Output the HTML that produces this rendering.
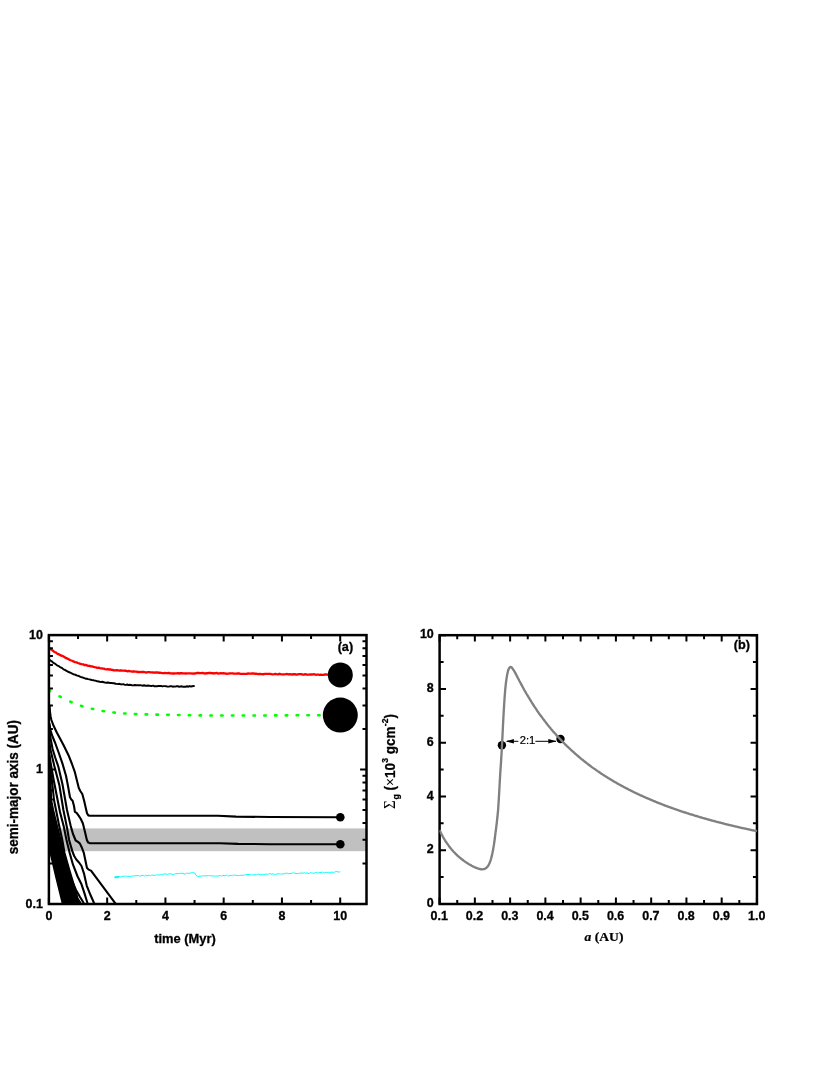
<!DOCTYPE html>
<html><head><meta charset="utf-8"><title>Figure</title>
<style>
html,body{margin:0;padding:0;background:#fff;}
body{width:830px;height:1075px;overflow:hidden;font-family:"Liberation Sans",sans-serif;}
svg{display:block;will-change:transform;font-family:"Liberation Sans",sans-serif;}
</style></head>
<body>
<svg width="830" height="1075" viewBox="0 0 830 1075">
<rect width="830" height="1075" fill="#fff"/>
<g id="panelA">
<rect x="48.9" y="828.4" width="317.6" height="22.8" fill="#c0c0c0"/>
<clipPath id="clipA"><rect x="48.9" y="635.1" width="317.6" height="268.9"/></clipPath>
<g clip-path="url(#clipA)" fill="none" stroke-linejoin="round" stroke-linecap="round">
<path d="M49.5 799.7 L50.2 804.7 L63.9 853.6 L79.2 907.0" stroke="#000" stroke-width="2.1"/>
<path d="M49.5 801.7 L50.2 806.7 L63.4 854.6 L78.5 907.0" stroke="#000" stroke-width="2.1"/>
<path d="M49.5 803.7 L50.2 808.7 L63.5 855.6 L77.8 907.0" stroke="#000" stroke-width="2.1"/>
<path d="M49.5 805.8 L50.2 810.8 L62.7 856.6 L77.2 907.0" stroke="#000" stroke-width="2.1"/>
<path d="M49.5 807.8 L50.2 812.8 L62.7 857.6 L76.5 907.0" stroke="#000" stroke-width="2.1"/>
<path d="M49.5 809.8 L50.2 814.8 L62.3 858.7 L75.8 907.0" stroke="#000" stroke-width="2.1"/>
<path d="M49.5 811.8 L50.2 816.8 L61.7 859.7 L75.1 907.0" stroke="#000" stroke-width="2.1"/>
<path d="M49.5 813.9 L50.2 818.9 L61.7 860.7 L74.5 907.0" stroke="#000" stroke-width="2.1"/>
<path d="M49.5 815.9 L50.2 820.9 L61.0 861.7 L73.8 907.0" stroke="#000" stroke-width="2.1"/>
<path d="M49.5 817.9 L50.2 822.9 L61.0 862.7 L73.1 907.0" stroke="#000" stroke-width="2.1"/>
<path d="M49.5 819.9 L50.2 824.9 L60.4 863.7 L72.4 907.0" stroke="#000" stroke-width="2.1"/>
<path d="M49.5 821.9 L50.2 826.9 L60.0 864.7 L71.7 907.0" stroke="#000" stroke-width="2.1"/>
<path d="M49.5 824.0 L50.2 829.0 L60.0 865.7 L71.1 907.0" stroke="#000" stroke-width="2.1"/>
<path d="M49.5 826.0 L50.2 831.0 L60.0 866.7 L70.4 907.0" stroke="#000" stroke-width="2.1"/>
<path d="M49.5 828.0 L50.2 833.0 L59.1 867.8 L69.7 907.0" stroke="#000" stroke-width="2.1"/>
<path d="M49.5 830.0 L50.2 835.0 L58.8 868.8 L69.0 907.0" stroke="#000" stroke-width="2.1"/>
<path d="M49.5 832.0 L50.2 837.0 L58.8 869.8 L68.4 907.0" stroke="#000" stroke-width="2.1"/>
<path d="M49.5 834.1 L50.2 839.1 L58.7 870.8 L67.7 907.0" stroke="#000" stroke-width="2.1"/>
<path d="M49.5 836.1 L50.2 841.1 L58.1 871.8 L67.0 907.0" stroke="#000" stroke-width="2.1"/>
<path d="M49.5 838.1 L50.2 843.1 L57.6 872.8 L66.3 907.0" stroke="#000" stroke-width="2.1"/>
<path d="M49.5 840.1 L50.2 845.1 L57.7 873.8 L65.6 907.0" stroke="#000" stroke-width="2.1"/>
<path d="M49.5 842.2 L50.2 847.2 L56.7 874.8 L64.9 907.0" stroke="#000" stroke-width="2.1"/>
<path d="M49.5 844.2 L50.2 849.2 L57.0 875.8 L64.3 907.0" stroke="#000" stroke-width="2.1"/>
<path d="M49.5 846.2 L50.2 851.2 L56.2 876.9 L63.6 907.0" stroke="#000" stroke-width="2.1"/>
<path d="M49.6 706.0 L50.0 712.0 L50.6 716.5 L51.4 720.0 L53.6 725.8 L56.8 732.5 L59.9 738.3 L63.6 745.3 L68.5 755.2 L71.8 763.5 L74.7 771.6 L76.8 780.0 L78.8 788.0 L80.3 791.0 L82.3 794.0 L84.2 801.0 L85.9 808.4 L87.0 813.3 L88.3 815.4 L90.0 815.7 L120.0 815.7 L218.0 815.7 L236.0 816.6 L270.0 817.0 L340.3 817.2" stroke="#000" stroke-width="2.1"/>
<path d="M49.6 724.0 L50.3 729.7 L52.5 736.5 L55.2 743.0 L58.8 753.0 L62.4 763.4 L66.0 775.7 L68.0 786.0 L70.0 797.2 L71.3 799.5 L72.6 800.8 L74.0 806.0 L74.9 811.8 L76.6 812.8 L78.8 815.9 L80.8 819.0 L82.9 823.5 L85.0 832.0 L87.0 840.4 L88.3 842.6 L90.0 843.2 L120.0 843.2 L220.0 843.2 L238.0 843.9 L270.0 844.2 L340.3 844.3" stroke="#000" stroke-width="2.1"/>
<path d="M49.6 731.0 L50.3 737.0 L52.6 749.0 L55.2 757.5 L58.3 766.5 L62.4 783.9 L67.0 810.0 L70.6 825.6 L73.0 834.0 L75.7 840.5 L77.6 841.6 L79.8 843.4 L81.8 847.5 L83.9 853.2 L85.5 861.0 L87.0 868.0 L88.6 869.6 L91.0 870.6 L114.6 902.3 L118.0 907.0" stroke="#000" stroke-width="2.1"/>
<path d="M49.6 743.0 L50.3 749.0 L54.2 765.5 L59.3 784.9 L63.4 810.0 L67.0 827.6 L69.1 840.0 L72.3 851.1 L74.2 856.0 L76.3 859.5 L79.0 862.5 L81.5 866.0 L84.1 873.9 L86.7 885.6 L90.6 895.3 L93.8 902.5 L96.0 907.0" stroke="#000" stroke-width="2.1"/>
<path d="M49.6 755.0 L50.3 761.0 L53.5 779.0 L57.6 800.0 L60.0 812.0 L64.0 827.6 L66.5 840.0 L69.7 853.0 L73.0 864.7 L77.6 876.5 L81.5 884.3 L84.1 892.1 L87.3 902.5 L89.0 907.0" stroke="#000" stroke-width="2.1"/>
<path d="M49.6 762.0 L50.3 768.0 L51.8 779.0 L54.0 800.0 L56.0 810.0 L59.0 825.0 L62.3 840.0 L64.5 853.0 L69.1 869.3 L73.6 884.3 L77.6 898.6 L80.2 902.5 L82.0 907.0" stroke="#000" stroke-width="2.1"/>
<path d="M49.6 770.0 L50.3 776.0 L51.1 800.0 L53.1 810.0 L57.0 826.0 L60.5 840.0 L63.5 853.0 L67.5 868.0 L72.0 881.0 L76.0 890.0 L80.0 897.0 L83.4 902.5 L85.0 907.0" stroke="#000" stroke-width="2.1"/>
<path d="M49.2 648.4 L50.5 649.1 L51.8 649.9 L53.1 650.8 L54.4 652.0 L55.7 652.4 L57.0 653.4 L58.3 654.2 L59.6 654.7 L60.9 655.5 L62.2 655.8 L63.5 656.5 L64.8 657.3 L66.1 658.2 L67.4 658.6 L68.7 659.2 L70.0 660.0 L71.3 660.5 L72.6 660.9 L73.9 661.7 L75.2 662.1 L76.5 662.3 L77.8 663.0 L79.1 663.4 L80.4 663.9 L81.7 664.2 L83.0 664.3 L84.3 665.1 L85.6 664.9 L86.9 665.4 L88.2 665.9 L89.5 665.8 L90.8 666.3 L92.1 666.3 L93.4 666.9 L94.7 667.2 L96.0 667.4 L97.3 667.8 L98.6 667.7 L99.9 668.2 L101.2 668.3 L102.5 668.5 L103.8 668.6 L105.1 669.1 L106.4 669.3 L107.7 669.2 L109.0 669.5 L110.3 669.3 L111.6 669.8 L112.9 670.0 L114.2 670.3 L115.5 670.3 L116.8 670.1 L118.1 670.3 L119.4 670.6 L120.7 670.3 L122.0 670.7 L123.3 670.6 L124.6 670.7 L125.9 670.7 L127.2 671.3 L128.5 671.0 L129.8 671.2 L131.1 671.3 L132.4 671.7 L133.7 671.3 L135.0 671.6 L136.3 671.7 L137.6 672.0 L138.9 672.0 L140.2 672.1 L141.5 671.9 L142.8 672.0 L144.1 672.0 L145.4 672.4 L146.7 672.5 L148.0 672.1 L149.3 672.2 L150.6 672.3 L151.9 672.3 L153.2 672.5 L154.5 672.7 L155.8 672.5 L157.1 672.4 L158.4 672.7 L159.7 672.7 L161.0 672.9 L162.3 673.2 L163.6 673.1 L164.9 673.0 L166.2 673.1 L167.5 673.2 L168.8 672.9 L170.1 673.4 L171.4 673.4 L172.7 673.5 L174.0 673.5 L175.3 673.3 L176.6 673.3 L177.9 673.2 L179.2 673.5 L180.5 673.2 L181.8 673.2 L183.1 673.3 L184.4 673.3 L185.7 673.5 L187.0 673.3 L188.3 673.3 L189.6 673.4 L190.9 673.4 L192.2 673.6 L193.5 673.4 L194.8 673.6 L196.1 673.2 L197.4 672.9 L198.7 673.0 L200.0 673.1 L201.3 673.1 L202.6 672.9 L203.9 673.4 L205.2 673.5 L206.5 673.2 L207.8 673.2 L209.1 673.0 L210.4 673.0 L211.7 673.2 L213.0 673.2 L214.3 673.5 L215.6 673.1 L216.9 673.0 L218.2 673.6 L219.5 673.4 L220.8 673.2 L222.1 673.4 L223.4 673.1 L224.7 673.4 L226.0 673.7 L227.3 673.7 L228.6 673.6 L229.9 673.3 L231.2 673.4 L232.5 673.3 L233.8 673.7 L235.1 673.6 L236.4 673.7 L237.7 673.5 L239.0 673.4 L240.3 673.8 L241.6 673.9 L242.9 673.8 L244.2 673.8 L245.5 673.9 L246.8 673.8 L248.1 673.5 L249.4 673.7 L250.7 673.6 L252.0 673.5 L253.3 673.5 L254.6 673.7 L255.9 673.7 L257.2 673.9 L258.5 674.1 L259.8 673.8 L261.1 674.1 L262.4 674.2 L263.7 674.2 L265.0 673.8 L266.3 673.8 L267.6 673.8 L268.9 673.8 L270.2 673.8 L271.5 674.1 L272.8 674.3 L274.1 674.2 L275.4 674.0 L276.7 674.2 L278.0 674.3 L279.3 673.8 L280.6 674.2 L281.9 674.4 L283.2 674.3 L284.5 674.3 L285.8 674.2 L287.1 674.0 L288.4 674.4 L289.7 674.1 L291.0 674.4 L292.3 674.5 L293.6 674.2 L294.9 674.2 L296.2 674.6 L297.5 674.5 L298.8 674.1 L300.1 674.1 L301.4 674.2 L302.7 674.6 L304.0 674.6 L305.3 674.2 L306.6 674.6 L307.9 674.7 L309.2 674.6 L310.5 674.4 L311.8 674.5 L313.1 674.3 L314.4 674.2 L315.7 674.8 L317.0 674.7 L318.3 674.6 L319.6 674.9 L320.9 674.6 L322.2 674.9 L323.5 674.8 L324.8 674.5 L326.1 674.5 L327.4 674.6 L328.7 674.6 L330.0 674.8 L331.3 674.6 L332.6 674.7 L333.9 674.5 L335.2 675.0 L336.5 674.7 L337.8 674.8 L339.1 674.8 L340.0 674.8" stroke="#ff0000" stroke-width="2.35"/>
<path d="M49.2 659.4 L50.5 660.6 L51.8 661.3 L53.1 662.6 L54.4 663.3 L55.7 664.3 L57.0 665.3 L58.3 665.8 L59.6 666.8 L60.9 667.5 L62.2 668.1 L63.5 669.4 L64.8 669.8 L66.1 670.6 L67.4 671.4 L68.7 672.0 L70.0 672.5 L71.3 673.2 L72.6 673.8 L73.9 674.5 L75.2 674.6 L76.5 675.4 L77.8 675.7 L79.1 676.2 L80.4 676.9 L81.7 677.2 L83.0 677.7 L84.3 678.2 L85.6 678.7 L86.9 678.7 L88.2 679.1 L89.5 679.4 L90.8 679.7 L92.1 680.1 L93.4 680.3 L94.7 680.6 L96.0 680.8 L97.3 681.3 L98.6 681.5 L99.9 681.8 L101.2 682.0 L102.5 681.8 L103.8 682.2 L105.1 682.6 L106.4 682.8 L107.7 682.5 L109.0 682.7 L110.3 683.0 L111.6 682.9 L112.9 683.2 L114.2 683.3 L115.5 683.7 L116.8 683.9 L118.1 684.1 L119.4 683.8 L120.7 684.3 L122.0 684.4 L123.3 684.2 L124.6 684.7 L125.9 684.9 L127.2 684.5 L128.5 685.1 L129.8 684.8 L131.1 685.0 L132.4 685.4 L133.7 685.3 L135.0 685.0 L136.3 685.2 L137.6 685.3 L138.9 685.3 L140.2 685.3 L141.5 685.4 L142.8 685.7 L144.1 685.3 L145.4 685.7 L146.7 685.7 L148.0 685.5 L149.3 685.7 L150.6 685.9 L151.9 685.9 L153.2 685.7 L154.5 686.3 L155.8 686.2 L157.1 686.3 L158.4 685.9 L159.7 686.0 L161.0 685.9 L162.3 686.4 L163.6 686.1 L164.9 686.1 L166.2 686.3 L167.5 686.6 L168.8 686.6 L170.1 686.3 L171.4 686.2 L172.7 686.7 L174.0 686.5 L175.3 686.6 L176.6 686.3 L177.9 686.3 L179.2 686.7 L180.5 686.5 L181.8 686.3 L183.1 686.8 L184.4 686.6 L185.7 686.7 L187.0 686.3 L188.3 686.7 L189.6 686.1 L190.9 686.5 L192.2 686.2 L193.5 686.0 L194.0 686.1" stroke="#000" stroke-width="1.95"/>
<path d="M48.75 690.06 L50.05 690.81 M59.51 696.30 L60.85 696.96 M70.29 701.55 L71.63 702.21 M81.02 705.74 L82.46 706.14 M91.79 708.71 L93.25 709.03 M102.56 711.07 L104.04 711.26 M113.33 712.49 L114.83 712.63 M124.11 713.49 L125.61 713.56 M134.89 713.99 L136.39 714.04 M145.67 714.39 L147.17 714.42 M156.45 714.59 L157.95 714.62 M167.23 714.80 L168.73 714.83 M178.01 715.00 L179.51 715.03 M188.79 715.20 L190.29 715.23 M199.57 715.40 L201.07 715.40 M210.35 715.43 L211.85 715.43 M221.13 715.45 L222.63 715.46 M231.91 715.48 L233.41 715.48 M242.69 715.49 L244.19 715.49 M253.47 715.47 L254.97 715.46 M264.25 715.44 L265.75 715.44 M275.03 715.41 L276.53 715.41 M285.81 715.37 L287.31 715.36 M296.59 715.32 L298.09 715.31 M307.37 715.26 L308.87 715.26 M318.15 715.21 L319.65 715.20" stroke="#00ff00" stroke-width="2.6" stroke-linecap="round"/>
<path d="M115.7 877.2 L116.9 877.5 L118.1 876.7 L119.3 876.5 L120.5 876.9 L121.7 876.5 L122.9 876.3 L124.1 876.3 L125.3 876.1 L126.5 876.2 L127.7 876.3 L128.9 876.2 L130.1 876.6 L131.3 876.0 L132.5 876.2 L133.7 875.8 L134.9 875.9 L136.1 875.5 L137.3 875.7 L138.5 875.4 L139.7 876.1 L140.9 875.8 L142.1 875.3 L143.3 875.6 L144.5 876.0 L145.7 875.1 L146.9 875.8 L148.1 875.3 L149.3 875.3 L150.5 875.6 L151.7 875.1 L152.9 875.1 L154.1 875.3 L155.3 875.5 L156.5 874.7 L157.7 875.2 L158.9 875.0 L160.1 874.9 L161.3 874.6 L162.5 874.4 L163.7 874.0 L164.9 874.1 L166.1 873.9 L167.3 874.6 L168.5 874.0 L169.7 873.8 L170.9 873.7 L172.1 874.5 L173.3 874.4 L174.5 874.1 L175.7 873.7 L176.9 873.6 L178.1 873.5 L179.3 873.7 L180.5 873.3 L181.7 873.5 L182.9 873.3 L184.1 874.0 L185.3 873.9 L186.5 873.4 L187.7 873.0 L188.9 873.7 L190.1 872.9 L191.3 872.9 L192.5 872.5 L193.7 872.8 L194.6 872.9 L196.6 876.0 L197.6 876.4 L198.8 876.4 L200.0 876.0 L201.2 876.3 L202.4 875.7 L203.6 876.0 L204.8 875.7 L206.0 876.0 L207.2 875.6 L208.4 875.5 L209.6 875.8 L210.8 875.7 L212.0 876.0 L213.2 875.9 L214.4 876.2 L215.6 876.0 L216.8 876.0 L218.0 876.2 L219.2 875.6 L220.4 875.5 L221.6 876.2 L222.8 875.2 L224.0 875.8 L225.2 875.7 L226.4 875.0 L227.6 875.8 L228.8 875.9 L230.0 875.5 L231.2 875.6 L232.4 875.7 L233.6 874.9 L234.8 875.3 L236.0 875.2 L237.2 875.5 L238.4 875.5 L239.6 875.5 L240.8 875.2 L242.0 875.5 L243.2 875.2 L244.4 875.2 L245.6 874.6 L246.8 874.4 L248.0 874.4 L249.2 874.6 L250.4 874.3 L251.6 875.1 L252.8 874.8 L254.0 874.8 L255.2 874.8 L256.4 874.8 L257.6 874.5 L258.8 874.0 L260.0 874.8 L261.2 874.7 L262.4 874.4 L263.6 874.4 L264.8 874.5 L266.0 873.8 L267.2 874.5 L268.4 873.9 L269.6 873.7 L270.8 873.9 L272.0 874.3 L273.2 873.7 L274.4 874.3 L275.6 874.5 L276.8 873.9 L278.0 873.8 L279.2 873.8 L280.4 874.0 L281.6 874.1 L282.8 873.9 L284.0 873.9 L285.2 873.2 L286.4 873.3 L287.6 873.3 L288.8 873.8 L290.0 873.3 L291.2 873.6 L292.4 872.9 L293.6 872.9 L294.8 873.1 L296.0 873.5 L297.2 873.5 L298.4 873.5 L299.6 873.0 L300.8 873.2 L302.0 873.1 L303.2 873.1 L304.4 872.7 L305.6 873.5 L306.8 872.7 L308.0 873.5 L309.2 873.4 L310.4 872.4 L311.6 872.8 L312.8 873.2 L314.0 873.3 L315.2 872.7 L316.4 872.5 L317.6 872.4 L318.8 873.1 L320.0 872.3 L321.2 872.7 L322.4 872.1 L323.6 872.5 L324.8 873.0 L326.0 872.0 L327.2 872.7 L328.4 872.4 L329.6 872.7 L330.8 872.5 L332.0 871.9 L333.2 872.6 L334.4 872.1 L335.6 871.6 L336.8 871.5 L338.0 872.0 L339.2 872.0 L339.8 871.8" stroke="#00ffff" stroke-width="1.0"/>
<path d="M115.2 877.2 L118.5 876.9" stroke="#00ffff" stroke-width="2"/>
</g>
<circle cx="340.3" cy="674.9" r="12.5" fill="#000"/>
<circle cx="340.3" cy="715.1" r="17.5" fill="#000"/>
<circle cx="340.3" cy="817.2" r="4.3" fill="#000"/>
<circle cx="340.3" cy="844.3" r="4.3" fill="#000"/>
<g stroke="#000" stroke-width="2.0" fill="none">
<path d="M48.90 904.0 V897.60 M48.90 635.1 V641.50"/>
<path d="M78.03 904.0 V900.00 M78.03 635.1 V639.10"/>
<path d="M107.16 904.0 V897.60 M107.16 635.1 V641.50"/>
<path d="M136.29 904.0 V900.00 M136.29 635.1 V639.10"/>
<path d="M165.42 904.0 V897.60 M165.42 635.1 V641.50"/>
<path d="M194.55 904.0 V900.00 M194.55 635.1 V639.10"/>
<path d="M223.68 904.0 V897.60 M223.68 635.1 V641.50"/>
<path d="M252.81 904.0 V900.00 M252.81 635.1 V639.10"/>
<path d="M281.94 904.0 V897.60 M281.94 635.1 V641.50"/>
<path d="M311.07 904.0 V900.00 M311.07 635.1 V639.10"/>
<path d="M340.20 904.0 V897.60 M340.20 635.1 V641.50"/>
<path d="M48.9 904.00 H55.30 M366.5 904.00 H360.10"/>
<path d="M48.9 863.53 H52.90 M366.5 863.53 H362.50"/>
<path d="M48.9 839.85 H52.90 M366.5 839.85 H362.50"/>
<path d="M48.9 823.05 H52.90 M366.5 823.05 H362.50"/>
<path d="M48.9 810.02 H52.90 M366.5 810.02 H362.50"/>
<path d="M48.9 799.38 H52.90 M366.5 799.38 H362.50"/>
<path d="M48.9 790.38 H52.90 M366.5 790.38 H362.50"/>
<path d="M48.9 782.58 H52.90 M366.5 782.58 H362.50"/>
<path d="M48.9 775.70 H52.90 M366.5 775.70 H362.50"/>
<path d="M48.9 769.55 H55.30 M366.5 769.55 H360.10"/>
<path d="M48.9 729.08 H52.90 M366.5 729.08 H362.50"/>
<path d="M48.9 705.40 H52.90 M366.5 705.40 H362.50"/>
<path d="M48.9 688.60 H52.90 M366.5 688.60 H362.50"/>
<path d="M48.9 675.57 H52.90 M366.5 675.57 H362.50"/>
<path d="M48.9 664.93 H52.90 M366.5 664.93 H362.50"/>
<path d="M48.9 655.93 H52.90 M366.5 655.93 H362.50"/>
<path d="M48.9 648.13 H52.90 M366.5 648.13 H362.50"/>
<path d="M48.9 641.25 H52.90 M366.5 641.25 H362.50"/>
</g>
<rect x="48.9" y="635.1" width="317.6" height="268.9" fill="none" stroke="#000" stroke-width="2.5"/>
<g font-weight="bold" font-size="12" fill="#000">
<text transform="translate(48.90 920.00) scale(1.0 1.07)" text-anchor="middle" font-size="12.5" font-weight="bold" stroke="#000" stroke-width="0.3">0</text>
<text transform="translate(107.16 920.00) scale(1.0 1.07)" text-anchor="middle" font-size="12.5" font-weight="bold" stroke="#000" stroke-width="0.3">2</text>
<text transform="translate(165.42 920.00) scale(1.0 1.07)" text-anchor="middle" font-size="12.5" font-weight="bold" stroke="#000" stroke-width="0.3">4</text>
<text transform="translate(223.68 920.00) scale(1.0 1.07)" text-anchor="middle" font-size="12.5" font-weight="bold" stroke="#000" stroke-width="0.3">6</text>
<text transform="translate(281.94 920.00) scale(1.0 1.07)" text-anchor="middle" font-size="12.5" font-weight="bold" stroke="#000" stroke-width="0.3">8</text>
<text transform="translate(340.20 920.00) scale(1.0 1.07)" text-anchor="middle" font-size="12.5" font-weight="bold" stroke="#000" stroke-width="0.3">10</text>
<text transform="translate(43.00 639.00) scale(1.0 1.07)" text-anchor="end" font-size="12.5" font-weight="bold" stroke="#000" stroke-width="0.3">10</text>
<text transform="translate(43.00 772.75) scale(1.0 1.07)" text-anchor="end" font-size="12.5" font-weight="bold" stroke="#000" stroke-width="0.3">1</text>
<text transform="translate(43.00 907.90) scale(1.0 1.07)" text-anchor="end" font-size="12.5" font-weight="bold" stroke="#000" stroke-width="0.3">0.1</text>
</g>
<text transform="translate(185.00 942.70) scale(1.0 0.97)" text-anchor="middle" font-size="12.9" font-weight="bold" stroke="#000" stroke-width="0.3">time (Myr)</text>
<text transform="translate(18.20 787.10) rotate(-90) scale(1.0 1.07)" text-anchor="middle" font-size="13.5" font-weight="bold" stroke="#000" stroke-width="0.3">semi-major axis (AU)</text>
<text transform="translate(345.40 651.30) scale(1.0 1.05)" text-anchor="middle" font-size="12.7" font-weight="bold" stroke="#000" stroke-width="0.3">(a)</text>
</g>
<g id="panelB">
<clipPath id="clipB"><rect x="439.40000000000003" y="635.2" width="318.25" height="268.79999999999995"/></clipPath>
<g stroke="#000" fill="#000">
<path d="M507 741.3 H556" stroke-width="1" fill="none"/>
<path d="M505.6 741.3 L513.9 739.0 L513.9 743.6 Z" stroke="none"/>
<path d="M556.6 741.3 L548.3 739.0 L548.3 743.6 Z" stroke="none"/>
</g>
<rect x="518.3" y="735" width="17.1" height="12" fill="#fff"/>
<text x="527.5" y="744.2" text-anchor="middle" font-size="11.2" stroke="#000" stroke-width="0.2">2:1</text>
<circle cx="501.9" cy="745.3" r="4.2" fill="#000"/>
<circle cx="560.5" cy="739" r="4.2" fill="#000"/>
<g stroke="#000" stroke-width="2.0" fill="none">
<path d="M439.60 904.0 V897.60 M439.60 635.2 V641.60"/>
<path d="M457.23 904.0 V900.00 M457.23 635.2 V639.20"/>
<path d="M474.86 904.0 V897.60 M474.86 635.2 V641.60"/>
<path d="M492.49 904.0 V900.00 M492.49 635.2 V639.20"/>
<path d="M510.12 904.0 V897.60 M510.12 635.2 V641.60"/>
<path d="M527.75 904.0 V900.00 M527.75 635.2 V639.20"/>
<path d="M545.38 904.0 V897.60 M545.38 635.2 V641.60"/>
<path d="M563.01 904.0 V900.00 M563.01 635.2 V639.20"/>
<path d="M580.64 904.0 V897.60 M580.64 635.2 V641.60"/>
<path d="M598.28 904.0 V900.00 M598.28 635.2 V639.20"/>
<path d="M615.91 904.0 V897.60 M615.91 635.2 V641.60"/>
<path d="M633.54 904.0 V900.00 M633.54 635.2 V639.20"/>
<path d="M651.17 904.0 V897.60 M651.17 635.2 V641.60"/>
<path d="M668.80 904.0 V900.00 M668.80 635.2 V639.20"/>
<path d="M686.43 904.0 V897.60 M686.43 635.2 V641.60"/>
<path d="M704.06 904.0 V900.00 M704.06 635.2 V639.20"/>
<path d="M721.69 904.0 V897.60 M721.69 635.2 V641.60"/>
<path d="M739.32 904.0 V900.00 M739.32 635.2 V639.20"/>
<path d="M756.95 904.0 V897.60 M756.95 635.2 V641.60"/>
<path d="M439.6 904.00 H446.00 M756.95 904.00 H750.55"/>
<path d="M439.6 877.12 H443.60 M756.95 877.12 H752.95"/>
<path d="M439.6 850.24 H446.00 M756.95 850.24 H750.55"/>
<path d="M439.6 823.36 H443.60 M756.95 823.36 H752.95"/>
<path d="M439.6 796.48 H446.00 M756.95 796.48 H750.55"/>
<path d="M439.6 769.60 H443.60 M756.95 769.60 H752.95"/>
<path d="M439.6 742.72 H446.00 M756.95 742.72 H750.55"/>
<path d="M439.6 715.84 H443.60 M756.95 715.84 H752.95"/>
<path d="M439.6 688.96 H446.00 M756.95 688.96 H750.55"/>
<path d="M439.6 662.08 H443.60 M756.95 662.08 H752.95"/>
<path d="M439.6 635.20 H446.00 M756.95 635.20 H750.55"/>
</g>
<rect x="439.6" y="635.2" width="317.35" height="268.79999999999995" fill="none" stroke="#000" stroke-width="2.5"/>
<path clip-path="url(#clipB)" d="M439.6 830.1 L440.3 831.6 L441.0 833.1 L441.7 834.5 L442.4 835.8 L443.1 837.1 L443.8 838.3 L444.5 839.5 L445.2 840.7 L445.9 841.8 L446.7 842.9 L447.4 843.9 L448.1 844.9 L448.8 845.8 L449.5 846.8 L450.2 847.7 L450.9 848.5 L451.6 849.4 L452.3 850.2 L453.0 851.0 L453.7 851.8 L454.4 852.5 L455.1 853.2 L455.8 854.0 L456.5 854.6 L457.2 855.3 L457.9 856.0 L458.6 856.6 L459.3 857.2 L460.1 857.8 L460.8 858.4 L461.5 859.0 L462.2 859.5 L462.9 860.0 L463.6 860.6 L464.3 861.1 L465.0 861.6 L465.7 862.1 L466.4 862.6 L467.1 863.0 L467.8 863.4 L468.5 863.9 L469.2 864.3 L469.9 864.7 L470.6 865.1 L471.3 865.5 L472.0 865.9 L472.7 866.3 L473.5 866.6 L474.2 867.0 L474.9 867.3 L475.6 867.6 L476.3 867.9 L477.0 868.2 L477.7 868.4 L478.4 868.6 L479.1 868.8 L479.8 869.0 L480.5 869.2 L481.2 869.2 L481.9 869.3 L482.6 869.3 L483.3 869.2 L484.0 869.1 L484.7 868.8 L485.4 868.5 L486.1 868.0 L486.8 867.4 L487.6 866.6 L488.3 865.6 L489.0 864.3 L489.7 862.8 L490.4 860.9 L491.1 858.6 L491.8 855.9 L492.5 852.8 L493.2 849.1 L493.9 844.9 L494.6 840.0 L495.3 834.3 L496.0 829.1 L496.7 823.3 L497.4 817.0 L498.1 810.2 L498.8 799.0 L499.5 786.7 L500.2 774.1 L501.0 762.4 L501.7 750.8 L502.4 737.5 L503.1 723.0 L503.8 710.1 L504.5 699.0 L505.2 689.9 L505.9 683.2 L506.6 678.1 L507.3 674.0 L508.0 670.9 L508.7 669.0 L509.4 667.9 L510.1 667.2 L510.8 666.9 L511.5 667.3 L512.2 668.1 L512.9 669.1 L513.6 670.2 L514.4 671.4 L515.1 672.7 L515.8 673.9 L516.5 675.3 L517.2 676.6 L517.9 678.0 L518.6 679.3 L519.3 680.7 L520.0 682.0 L520.7 683.3 L521.4 684.6 L522.1 685.9 L522.8 687.2 L523.5 688.5 L524.2 689.8 L524.9 691.0 L525.6 692.2 L526.3 693.5 L527.0 694.7 L527.8 695.9 L528.5 697.1 L529.2 698.2 L529.9 699.4 L530.6 700.5 L531.3 701.7 L532.0 702.8 L532.7 703.9 L533.4 705.0 L534.1 706.1 L534.8 707.1 L535.5 708.2 L536.2 709.2 L536.9 710.3 L537.6 711.3 L538.3 712.3 L539.0 713.3 L539.7 714.3 L540.4 715.3 L541.2 716.3 L541.9 717.2 L542.6 718.2 L543.3 719.1 L544.0 720.0 L544.7 721.0 L545.4 721.9 L546.1 722.8 L546.8 723.7 L547.5 724.6 L548.2 725.5 L548.9 726.3 L549.6 727.2 L550.3 728.0 L551.0 728.9 L551.7 729.7 L552.4 730.6 L553.1 731.4 L553.8 732.2 L554.6 733.0 L555.3 733.8 L556.0 734.6 L556.7 735.4 L557.4 736.2 L558.1 736.9 L558.8 737.7 L559.5 738.4 L560.2 739.2 L560.9 739.9 L561.6 740.7 L562.3 741.4 L563.0 742.1 L563.7 742.8 L564.4 743.5 L565.1 744.3 L565.8 745.0 L566.5 745.6 L567.2 746.3 L568.0 747.0 L568.7 747.7 L569.4 748.3 L570.1 749.0 L570.8 749.7 L571.5 750.3 L572.2 751.0 L572.9 751.6 L573.6 752.2 L574.3 752.9 L575.0 753.5 L575.7 754.1 L576.4 754.7 L577.1 755.3 L577.8 755.9 L578.5 756.5 L579.2 757.1 L579.9 757.7 L580.6 758.3 L581.3 758.9 L582.1 759.5 L582.8 760.0 L583.5 760.6 L584.2 761.2 L584.9 761.7 L585.6 762.3 L586.3 762.8 L587.0 763.4 L587.7 763.9 L588.4 764.5 L589.1 765.0 L589.8 765.5 L590.5 766.0 L591.2 766.6 L591.9 767.1 L592.6 767.6 L593.3 768.1 L594.0 768.6 L594.7 769.1 L595.5 769.6 L596.2 770.1 L596.9 770.6 L597.6 771.1 L598.3 771.6 L599.0 772.0 L599.7 772.5 L600.4 773.0 L601.1 773.5 L601.8 773.9 L602.5 774.4 L603.2 774.8 L603.9 775.3 L604.6 775.8 L605.3 776.2 L606.0 776.6 L606.7 777.1 L607.4 777.5 L608.1 778.0 L608.9 778.4 L609.6 778.8 L610.3 779.3 L611.0 779.7 L611.7 780.1 L612.4 780.5 L613.1 781.0 L613.8 781.4 L614.5 781.8 L615.2 782.2 L615.9 782.6 L616.6 783.0 L617.3 783.4 L618.0 783.8 L618.7 784.2 L619.4 784.6 L620.1 785.0 L620.8 785.4 L621.5 785.7 L622.3 786.1 L623.0 786.5 L623.7 786.9 L624.4 787.3 L625.1 787.6 L625.8 788.0 L626.5 788.4 L627.2 788.7 L627.9 789.1 L628.6 789.5 L629.3 789.8 L630.0 790.2 L630.7 790.5 L631.4 790.9 L632.1 791.2 L632.8 791.6 L633.5 791.9 L634.2 792.3 L634.9 792.6 L635.7 793.0 L636.4 793.3 L637.1 793.6 L637.8 794.0 L638.5 794.3 L639.2 794.6 L639.9 795.0 L640.6 795.3 L641.3 795.6 L642.0 795.9 L642.7 796.2 L643.4 796.6 L644.1 796.9 L644.8 797.2 L645.5 797.5 L646.2 797.8 L646.9 798.1 L647.6 798.4 L648.3 798.7 L649.1 799.0 L649.8 799.3 L650.5 799.6 L651.2 799.9 L651.9 800.2 L652.6 800.5 L653.3 800.8 L654.0 801.1 L654.7 801.4 L655.4 801.7 L656.1 802.0 L656.8 802.3 L657.5 802.5 L658.2 802.8 L658.9 803.1 L659.6 803.4 L660.3 803.7 L661.0 803.9 L661.7 804.2 L662.5 804.5 L663.2 804.8 L663.9 805.0 L664.6 805.3 L665.3 805.6 L666.0 805.8 L666.7 806.1 L667.4 806.4 L668.1 806.6 L668.8 806.9 L669.5 807.1 L670.2 807.4 L670.9 807.6 L671.6 807.9 L672.3 808.2 L673.0 808.4 L673.7 808.7 L674.4 808.9 L675.1 809.1 L675.8 809.4 L676.6 809.6 L677.3 809.9 L678.0 810.1 L678.7 810.4 L679.4 810.6 L680.1 810.8 L680.8 811.1 L681.5 811.3 L682.2 811.6 L682.9 811.8 L683.6 812.0 L684.3 812.3 L685.0 812.5 L685.7 812.7 L686.4 812.9 L687.1 813.2 L687.8 813.4 L688.5 813.6 L689.2 813.8 L690.0 814.1 L690.7 814.3 L691.4 814.5 L692.1 814.7 L692.8 814.9 L693.5 815.2 L694.2 815.4 L694.9 815.6 L695.6 815.8 L696.3 816.0 L697.0 816.2 L697.7 816.4 L698.4 816.7 L699.1 816.9 L699.8 817.1 L700.5 817.3 L701.2 817.5 L701.9 817.7 L702.6 817.9 L703.4 818.1 L704.1 818.3 L704.8 818.5 L705.5 818.7 L706.2 818.9 L706.9 819.1 L707.6 819.3 L708.3 819.5 L709.0 819.7 L709.7 819.9 L710.4 820.1 L711.1 820.3 L711.8 820.5 L712.5 820.7 L713.2 820.8 L713.9 821.0 L714.6 821.2 L715.3 821.4 L716.0 821.6 L716.8 821.8 L717.5 822.0 L718.2 822.2 L718.9 822.3 L719.6 822.5 L720.3 822.7 L721.0 822.9 L721.7 823.1 L722.4 823.2 L723.1 823.4 L723.8 823.6 L724.5 823.8 L725.2 824.0 L725.9 824.1 L726.6 824.3 L727.3 824.5 L728.0 824.6 L728.7 824.8 L729.4 825.0 L730.2 825.2 L730.9 825.3 L731.6 825.5 L732.3 825.7 L733.0 825.8 L733.7 826.0 L734.4 826.2 L735.1 826.3 L735.8 826.5 L736.5 826.7 L737.2 826.8 L737.9 827.0 L738.6 827.2 L739.3 827.3 L740.0 827.5 L740.7 827.6 L741.4 827.8 L742.1 828.0 L742.8 828.1 L743.6 828.3 L744.3 828.4 L745.0 828.6 L745.7 828.7 L746.4 828.9 L747.1 829.1 L747.8 829.2 L748.5 829.4 L749.2 829.5 L749.9 829.7 L750.6 829.8 L751.3 830.0 L752.0 830.1 L752.7 830.3 L753.4 830.4 L754.1 830.6 L754.8 830.7 L755.5 830.9 L756.2 831.0 L757.0 831.2" fill="none" stroke="#808080" stroke-linecap="butt" stroke-width="2.35" stroke-linejoin="round"/>
<g font-weight="bold" font-size="12" fill="#000">
<text transform="translate(439.30 920.30) scale(1.0 1.07)" text-anchor="middle" font-size="12.5" font-weight="bold" stroke="#000" stroke-width="0.3">0.1</text>
<text transform="translate(474.56 920.30) scale(1.0 1.07)" text-anchor="middle" font-size="12.5" font-weight="bold" stroke="#000" stroke-width="0.3">0.2</text>
<text transform="translate(509.82 920.30) scale(1.0 1.07)" text-anchor="middle" font-size="12.5" font-weight="bold" stroke="#000" stroke-width="0.3">0.3</text>
<text transform="translate(545.08 920.30) scale(1.0 1.07)" text-anchor="middle" font-size="12.5" font-weight="bold" stroke="#000" stroke-width="0.3">0.4</text>
<text transform="translate(580.34 920.30) scale(1.0 1.07)" text-anchor="middle" font-size="12.5" font-weight="bold" stroke="#000" stroke-width="0.3">0.5</text>
<text transform="translate(615.61 920.30) scale(1.0 1.07)" text-anchor="middle" font-size="12.5" font-weight="bold" stroke="#000" stroke-width="0.3">0.6</text>
<text transform="translate(650.87 920.30) scale(1.0 1.07)" text-anchor="middle" font-size="12.5" font-weight="bold" stroke="#000" stroke-width="0.3">0.7</text>
<text transform="translate(686.13 920.30) scale(1.0 1.07)" text-anchor="middle" font-size="12.5" font-weight="bold" stroke="#000" stroke-width="0.3">0.8</text>
<text transform="translate(721.39 920.30) scale(1.0 1.07)" text-anchor="middle" font-size="12.5" font-weight="bold" stroke="#000" stroke-width="0.3">0.9</text>
<text transform="translate(756.65 920.30) scale(1.0 1.07)" text-anchor="middle" font-size="12.5" font-weight="bold" stroke="#000" stroke-width="0.3">1.0</text>
<text transform="translate(433.80 907.10) scale(1.0 1.07)" text-anchor="end" font-size="12.5" font-weight="bold" stroke="#000" stroke-width="0.3">0</text>
<text transform="translate(433.80 853.34) scale(1.0 1.07)" text-anchor="end" font-size="12.5" font-weight="bold" stroke="#000" stroke-width="0.3">2</text>
<text transform="translate(433.80 799.58) scale(1.0 1.07)" text-anchor="end" font-size="12.5" font-weight="bold" stroke="#000" stroke-width="0.3">4</text>
<text transform="translate(433.80 745.82) scale(1.0 1.07)" text-anchor="end" font-size="12.5" font-weight="bold" stroke="#000" stroke-width="0.3">6</text>
<text transform="translate(433.80 692.06) scale(1.0 1.07)" text-anchor="end" font-size="12.5" font-weight="bold" stroke="#000" stroke-width="0.3">8</text>
<text transform="translate(433.80 638.30) scale(1.0 1.07)" text-anchor="end" font-size="12.5" font-weight="bold" stroke="#000" stroke-width="0.3">10</text>
</g>
<text transform="translate(604 940.9) scale(1 0.93)" text-anchor="middle" font-weight="bold" font-size="13.6" stroke="#000" stroke-width="0.25" font-family="'Liberation Serif',serif"><tspan font-style="italic">a</tspan> (AU)</text>
<text transform="translate(741.90 649.00) scale(1.0 1.05)" text-anchor="middle" font-size="12.7" font-weight="bold" stroke="#000" stroke-width="0.3">(b)</text>
<g transform="translate(394.8 808.9) rotate(-90) scale(1.0 1.1)"><text x="0" y="0" font-size="13.5" font-weight="bold" stroke="#000" stroke-width="0.25"><tspan font-family="'Liberation Serif',serif" font-weight="normal" font-size="15" stroke-width="0">Σ</tspan><tspan dx="0.6" dy="3.4" font-size="8.8">g</tspan><tspan dy="-3.4" font-size="13.5"> (</tspan><tspan font-weight="normal" stroke-width="0" font-size="13.5">×</tspan><tspan font-size="13.5">10</tspan><tspan dx="0.3" dy="-6.3" font-size="8.6">3</tspan><tspan dy="6.3" font-size="13.5"> gcm</tspan><tspan dx="0.3" dy="-6.3" font-size="8.6">-2</tspan><tspan dy="6.3" font-size="13.5">)</tspan></text></g>
</g>
</svg>
</body></html>
